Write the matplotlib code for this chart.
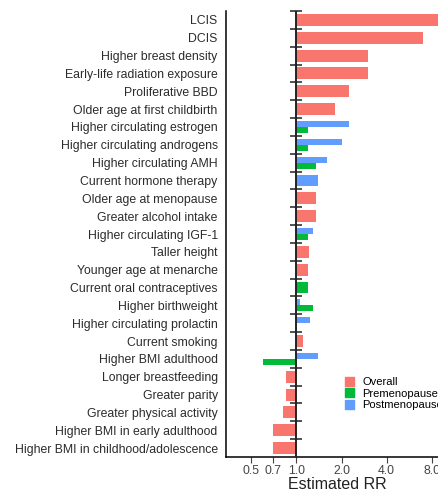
import matplotlib.pyplot as plt
from matplotlib.patches import Patch

plt.rcParams['font.family'] = ['Liberation Sans', 'DejaVu Sans']

# Data (top to bottom); None = no estimate for that group
factors = ['LCIS', 'DCIS', 'Higher breast density', 'Early-life radiation exposure',
           'Proliferative BBD', 'Older age at first childbirth',
           'Higher circulating estrogen', 'Higher circulating androgens',
           'Higher circulating AMH', 'Current hormone therapy',
           'Older age at menopause', 'Greater alcohol intake',
           'Higher circulating IGF-1', 'Taller height', 'Younger age at menarche',
           'Current oral contraceptives', 'Higher birthweight',
           'Higher circulating prolactin', 'Current smoking', 'Higher BMI adulthood',
           'Longer breastfeeding', 'Greater parity', 'Greater physical activity',
           'Higher BMI in early adulthood', 'Higher BMI in childhood/adolescence']
overall = [10.0, 7.0, 3.0, 3.0, 2.25, 1.8, None, None, None, None,
           1.35, 1.35, None, 1.22, 1.2, None, None, None, 1.1, None,
           0.86, 0.86, 0.81, 0.7, 0.7]
premeno = [None, None, None, None, None, None, 1.2, 1.2, 1.35, None,
           None, None, 1.2, None, None, 1.2, 1.3, 1.0, None, 0.6,
           None, None, None, None, None]
postmeno = [None, None, None, None, None, None, 2.25, 2.0, 1.6, 1.4,
            None, None, 1.3, None, None, None, 1.05, 1.24, None, 1.4,
            None, None, None, None, None]

tick_vals = [0.5, 0.7, 1.0, 2.0, 4.0, 8.0]
tick_labels = ['0.5', '0.7', '1.0', '2.0', '4.0', '8.0']

c_over = '#F8766D'
c_pre = '#00BA38'
c_post = '#619CFF'

W, H = 439, 492
fig = plt.figure(figsize=(W / 100, H / 100), dpi=100)
ax = fig.add_axes([226 / W, 1 - 457 / H, (462 - 226) / W, (457 - 11) / H])

bw = 0.67
for i in range(len(factors)):
    if overall[i] is not None:
        ax.barh(i, overall[i] - 1, left=1, height=bw, color=c_over)
    both = premeno[i] is not None and postmeno[i] is not None
    if both:
        ax.barh(i - bw / 4, postmeno[i] - 1, left=1, height=bw / 2, color=c_post)
        ax.barh(i + bw / 4, premeno[i] - 1, left=1, height=bw / 2, color=c_pre)
    elif postmeno[i] is not None:
        ax.barh(i, postmeno[i] - 1, left=1, height=bw, color=c_post)
    elif premeno[i] is not None:
        ax.barh(i, premeno[i] - 1, left=1, height=bw, color=c_pre)

# reference line at RR = 1 with small row separators
ax.axvline(1, color='#222222', lw=1.4, zorder=3)
ax.plot([1] * len(factors), [i - 0.5 for i in range(len(factors))], marker='_',
        ms=8, mew=1.1, color='#222222', ls='none', zorder=3, clip_on=False)

ax.set_xscale('log')
ax.set_xlim(0.34, 12.7)
ax.set_ylim(len(factors) - 0.5, -0.5)
ax.set_xticks(tick_vals)
ax.set_xticklabels(tick_labels)
ax.minorticks_off()
ax.set_yticks(range(len(factors)))
ax.set_yticklabels(factors)
ax.tick_params(axis='y', length=0, pad=6, labelsize=8.8, labelcolor='#2b2b2b')
ax.tick_params(axis='x', length=4, width=0.8, color='#444444', pad=2,
               labelsize=8.8, labelcolor='#444444')
for s in ['top', 'right']:
    ax.spines[s].set_visible(False)
ax.spines['left'].set_linewidth(1.1)
ax.spines['bottom'].set_linewidth(1.1)
ax.set_xlabel('Estimated RR', fontsize=11.5, color='#222222', labelpad=3)
ax.xaxis.set_label_coords((337 - 226) / (462 - 226), -0.045)

handles = [Patch(color=c_over, label='Overall'),
           Patch(color=c_pre, label='Premenopause'),
           Patch(color=c_post, label='Postmenopause')]
fig.legend(handles=handles, loc='upper left', bbox_to_anchor=(345 / W, 1 - 377 / H),
           frameon=False, fontsize=8.0, handlelength=0.85, handleheight=0.85,
           handletextpad=0.7, labelspacing=0.1, borderpad=0, borderaxespad=0)

fig.savefig('out.png', dpi=100)
